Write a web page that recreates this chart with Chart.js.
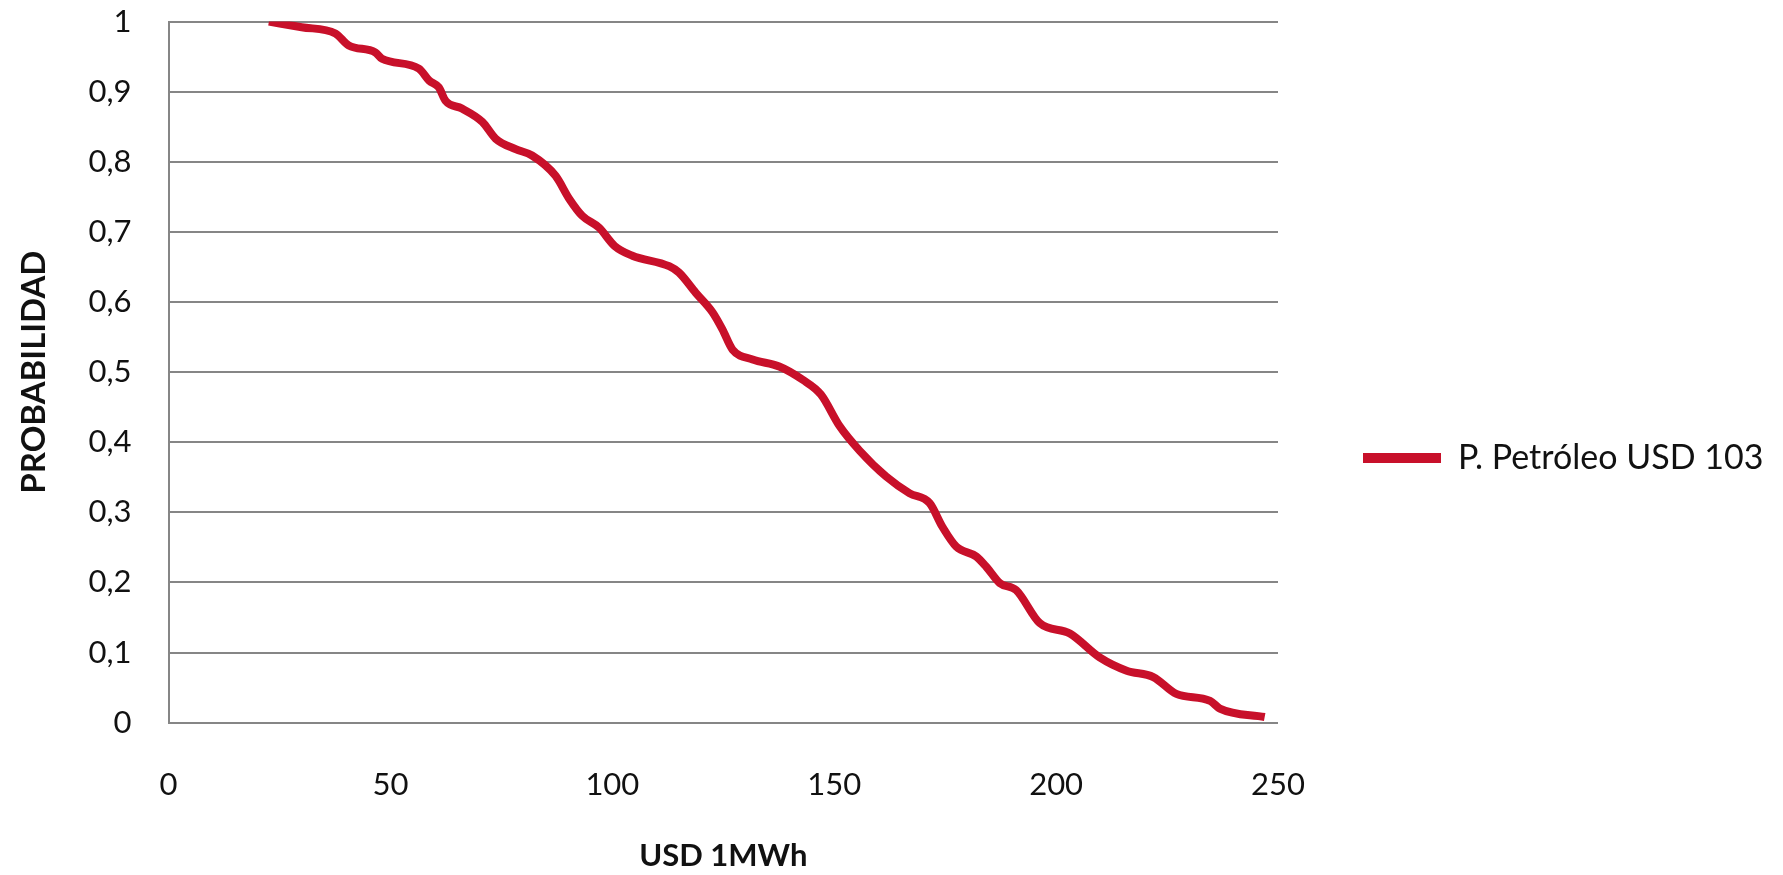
<!DOCTYPE html>
<html lang="es">
<head>
<meta charset="utf-8">
<title>Probabilidad - costo USD/MWh</title>
<script src="https://cdn.jsdelivr.net/npm/chart.js@4.4.1/dist/chart.umd.min.js"></script>
<style>
    html, body { margin: 0; padding: 0; background: #ffffff; }
    #chartBox { width: 1783px; height: 875px; position: relative; }
</style>
</head>
<body>
<div id="chartBox">
    <canvas id="probabilityChart"></canvas>
</div>
<script>
// Curva de probabilidad acumulada (precio del petróleo USD 103)
const seriesLabel = "P. Petróleo USD 103";

const priceUsd = [
    22.6, 30.0, 37.6, 40.6, 46.6, 48.1, 56.4, 58.7, 60.9, 62.4,
    66.1, 70.7, 73.7, 78.2, 81.9, 87.2, 90.3, 93.2, 97.0, 100.5,
    104.5, 112.8, 115.0, 118.8, 122.6, 124.8, 127.1, 131.6, 137.6, 142.9,
    147.0, 151.2, 155.7, 161.7, 167.0, 171.5, 174.4, 177.5, 182.0, 184.3,
    187.3, 191.0, 196.3, 203.1, 209.8, 215.9, 221.9, 227.1, 234.7, 236.9,
    247.0
];

const probability = [
    1.000, 0.992, 0.983, 0.966, 0.956, 0.947, 0.933, 0.916, 0.906, 0.887,
    0.876, 0.857, 0.833, 0.818, 0.809, 0.780, 0.747, 0.723, 0.706, 0.680,
    0.666, 0.651, 0.642, 0.613, 0.585, 0.561, 0.532, 0.518, 0.508, 0.489,
    0.468, 0.423, 0.388, 0.351, 0.327, 0.313, 0.279, 0.251, 0.237, 0.222,
    0.199, 0.189, 0.142, 0.127, 0.093, 0.074, 0.065, 0.041, 0.031, 0.020,
    0.008
];

const xTicks = [0, 50, 100, 150, 200, 250];
const yTicks = [0, 0.1, 0.2, 0.3, 0.4, 0.5, 0.6, 0.7, 0.8, 0.9, 1];

const lineColor = '#c8102a';
const gridColor = '#868686';
const textColor = '#111111';
const fontFamily = 'Lato, "Open Sans", sans-serif';

const points = priceUsd.map((x, i) => ({ x: x, y: probability[i] }));

// decimal comma, as in the spanish locale
function formatTick(value) {
    const v = Math.round(value * 10) / 10;
    return Number.isInteger(v) ? String(v) : v.toFixed(1).replace('.', ',');
}

// the legend column is capped in width by the layout, so let its box
// run to the canvas edge after layout or the label gets clipped
const widenLegend = {
    id: 'widenLegend',
    afterLayout(chart) {
        const legend = chart.legend;
        if (!legend) return;
        legend.right = chart.width;
        legend.width = legend.right - legend.left;
    }
};

const ctx = document.getElementById('probabilityChart').getContext('2d');

new Chart(ctx, {
    type: 'line',
    data: {
        datasets: [{
            label: seriesLabel,
            data: points,
            borderColor: lineColor,
            backgroundColor: lineColor,
            borderWidth: 8,
            pointRadius: 0,
            fill: false,
            cubicInterpolationMode: 'monotone'
        }]
    },
    plugins: [widenLegend],
    options: {
        responsive: true,
        maintainAspectRatio: false,
        animation: false,
        layout: {
            // right padding also sets where the legend column starts
            padding: { top: 2, right: 79, bottom: 0, left: 0 }
        },
        plugins: {
            tooltip: { enabled: false },
            legend: {
                position: 'right',
                // empty title only pushes the entry a bit below the middle
                title: {
                    display: true,
                    text: '',
                    font: { size: 1 },
                    padding: { top: 38, bottom: 0 }
                },
                labels: {
                    boxWidth: 78,
                    boxHeight: 10,
                    padding: 85,
                    color: textColor,
                    font: { family: fontFamily, size: 34 },
                    generateLabels: (chart) => {
                        const items = Chart.defaults.plugins.legend.labels.generateLabels(chart);
                        items.forEach(item => {
                            item.lineWidth = 0;
                            item.fillStyle = lineColor;
                        });
                        return items;
                    }
                }
            }
        },
        scales: {
            x: {
                type: 'linear',
                min: xTicks[0],
                max: xTicks[xTicks.length - 1],
                afterBuildTicks: (axis) => {
                    axis.ticks = xTicks.map(v => ({ value: v }));
                },
                // invisible tick marks keep the labels away from the axis
                grid: { display: false, drawTicks: true, tickLength: 41 },
                border: { display: false },
                ticks: {
                    color: textColor,
                    padding: 3,
                    font: { family: fontFamily, size: 31 }
                },
                title: {
                    display: true,
                    text: 'USD 1MWh',
                    color: textColor,
                    font: { family: fontFamily, size: 31, weight: 'bold' },
                    padding: { top: 31, bottom: 0 }
                }
            },
            y: {
                min: yTicks[0],
                max: yTicks[yTicks.length - 1],
                afterBuildTicks: (axis) => {
                    axis.ticks = yTicks.map(v => ({ value: v }));
                },
                grid: {
                    color: gridColor,
                    lineWidth: 2,
                    drawTicks: true,
                    tickLength: 34,
                    tickColor: 'rgba(0,0,0,0)'
                },
                border: { display: true, color: gridColor, width: 2 },
                ticks: {
                    color: textColor,
                    padding: 3,
                    font: { family: fontFamily, size: 31 },
                    callback: (value) => formatTick(value)
                },
                title: {
                    display: true,
                    text: 'PROBABILIDAD',
                    color: textColor,
                    font: { family: fontFamily, size: 33, weight: 'bold' },
                    padding: { top: 15, bottom: 31 }
                }
            }
        }
    }
});
</script>
</body>
</html>
